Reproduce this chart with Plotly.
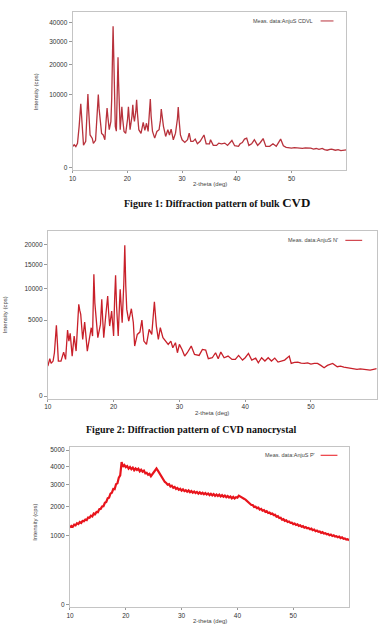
import numpy as np
import plotly.graph_objects as go

# ---------------- data ----------------
bulk_theta = [10.0, 10.3, 10.6, 10.9, 11.2, 11.35, 11.5, 11.65, 11.8, 12.0, 12.4, 12.6, 12.8, 12.95, 13.2,
              13.6, 13.8, 14.2, 14.5, 14.7, 14.85, 15.0, 15.3, 15.6, 15.9, 16.15, 16.3, 16.45, 16.7, 17.0,
              17.15, 17.3, 17.4, 17.5, 17.65, 17.8, 18.0, 18.15, 18.25, 18.3, 18.4, 18.55, 18.7, 18.85, 19.0,
              19.15, 19.4, 19.7, 20.05, 20.2, 20.35, 20.5, 20.85, 21.0, 21.15, 21.3, 21.55, 21.7, 21.85, 22.1,
              22.5, 22.9, 23.2, 23.5, 23.8, 24.05, 24.2, 24.35, 24.6, 25.0, 25.4, 25.8, 26.05, 26.2, 26.35,
              26.6, 27.0, 27.4, 27.7, 28.0, 28.4, 28.8, 29.15, 29.3, 29.45, 29.7, 30.0, 30.5, 31.0, 31.3,
              31.6, 32.0, 32.4, 32.8, 33.3, 34.0, 34.4, 35.0, 35.2, 35.7, 36.3, 36.7, 37.2, 37.8, 38.3,
              39.1, 39.6, 40.3, 40.6, 41.0, 41.4, 41.8, 42.2, 42.7, 43.2, 43.8, 44.3, 44.8, 45.3, 46.0,
              46.6, 47.2, 48.0, 48.5, 49.0, 49.5, 50.0, 50.5, 51.0, 51.5, 52.0, 52.5, 53.0, 53.5, 54.0,
              54.5, 55.0, 55.6, 56.0, 56.5, 57.0, 57.3, 58.0, 58.5, 59.0, 59.5, 60.0]
bulk_int = [830, 980, 830, 1100, 3200, 6000, 7700, 5000, 2400, 930, 1300, 4500, 10200, 6000, 2000,
            1600, 1100, 1400, 5000, 10100, 6500, 4300, 2200, 2000, 1450, 4500, 6700, 4800, 2700, 4000,
            9000, 25000, 37800, 26000, 8000, 3200, 2500, 9000, 19000, 23000, 14000, 3500, 2700, 4500, 7000,
            4500, 2450, 2200, 4500, 7000, 4500, 2700, 5000, 7450, 5000, 4000, 6000, 8700, 5500, 2700,
            2200, 3850, 2600, 3700, 2450, 5500, 8850, 5000, 2450, 1630, 2450, 2700, 4200, 6450, 4800,
            3200, 1820, 2700, 2000, 2780, 1450, 2230, 4500, 6900, 4300, 2000, 1450, 1190, 1450, 2230,
            1290, 1290, 1520, 1060, 1290, 2000, 1060, 1060, 1450, 920, 920, 1120, 1060, 1120, 920,
            1380, 890, 840, 1060, 1180, 1520, 1630, 920, 1060, 1450, 920, 1180, 1580, 840, 840,
            1060, 840, 1520, 890, 760, 720, 710, 740, 710, 690, 690, 730, 735, 700, 640,
            680, 620, 690, 600, 560, 620, 640, 560, 600, 530, 560, 590]

nano_theta = [10.0, 10.3, 10.5, 10.8, 11.0, 11.15, 11.3, 11.45, 11.6, 12.0, 12.4, 12.7, 13.0, 13.2, 13.4,
              13.7, 14.0, 14.3, 14.55, 14.7, 14.85, 15.0, 15.3, 15.6, 16.0, 16.3, 16.6, 16.8, 16.9, 17.0,
              17.15, 17.3, 17.6, 18.0, 18.1, 18.2, 18.35, 18.5, 18.8, 19.0, 19.1, 19.25, 19.4, 19.7, 20.0,
              20.15, 20.3, 20.45, 20.7, 20.9, 21.0, 21.15, 21.3, 21.55, 21.7, 21.85, 22.0, 22.3, 22.7, 23.0,
              23.2, 23.6, 24.0, 24.3, 24.6, 25.0, 25.4, 25.8, 26.05, 26.2, 26.35, 26.5, 26.8, 27.1, 27.5,
              27.9, 28.3, 28.7, 29.0, 29.4, 29.7, 30.0, 30.4, 30.8, 31.2, 31.8, 32.3, 33.0, 33.5, 34.0,
              34.4, 35.0, 35.5, 35.9, 36.3, 36.8, 37.4, 38.0, 38.5, 39.0, 39.6, 40.0, 40.5, 41.0, 41.6,
              42.0, 42.5, 43.0, 43.5, 44.0, 44.5, 45.0, 45.5, 46.0, 46.7, 47.0, 47.5, 48.0, 48.5, 49.0,
              49.5, 50.0, 50.5, 51.0, 51.5, 52.0, 52.5, 53.0, 53.3, 54.0, 54.5, 55.0, 55.5, 56.0, 56.5,
              57.0, 57.5, 58.0, 58.5, 59.0, 59.5, 60.0]
nano_int = [781, 1210, 926, 1063, 1630, 3000, 4335, 2500, 1063, 1063, 1680, 1167, 3781, 2626, 3409,
            1389, 3125, 1758, 5000, 7294, 6400, 5790, 2787, 4753, 1758, 2853, 4053, 3125, 6500, 12848,
            7500, 5326, 2954, 4458, 6000, 8111, 5000, 2954, 5555, 7000, 8680, 6000, 4253, 6271, 3125,
            8000, 12638, 7000, 3125, 7500, 9876, 7000, 4668, 11000, 19704, 10500, 6520, 4883, 6621, 4668,
            2170, 3301, 3555, 5013, 2626, 2317, 3858, 3301, 5500, 7724, 5800, 4253, 2787, 4053, 2954,
            2626, 2317, 2626, 2028, 2469, 1630, 2317, 1890, 1389, 1630, 2170, 1507, 1435, 1890, 1837,
            1210, 1275, 1630, 1210, 1680, 1275, 1389, 1167, 1167, 1435, 1125, 1275, 1580, 1125, 1253,
            964, 1275, 1063, 1275, 1063, 1253, 1003, 1043, 1125, 1389, 926, 990, 1003, 940, 926,
            960, 889, 930, 926, 816, 697, 816, 870, 926, 747, 780, 730, 700, 681, 650,
            617, 640, 617, 600, 587, 620, 649]

amor_theta = list(np.arange(10.0, 60.001, 0.25))   # measurement grid, 0.25 deg steps
amor_int = [1250, 1300, 1270, 1340, 1320, 1390, 1360, 1430, 1400, 1470, 1460, 1520,
            1500, 1590, 1580, 1660, 1630, 1740, 1710, 1800, 1790, 1910, 1920, 2020,
            2030, 2170, 2210, 2370, 2400, 2580, 2620, 2800, 2790, 3040, 3080, 3380,
            3500, 4250, 3980, 4080, 3960, 4020, 3870, 3960, 3840, 3930, 3780, 3880,
            3800, 3870, 3720, 3810, 3700, 3760, 3610, 3640, 3530, 3580, 3450, 3560,
            3600, 3760, 3880, 3760, 3620, 3480, 3380, 3240, 3150, 3100, 3010, 3040,
            2920, 2960, 2860, 2900, 2800, 2850, 2760, 2810, 2720, 2780, 2700, 2740,
            2670, 2730, 2650, 2700, 2620, 2680, 2610, 2660, 2580, 2640, 2570, 2620,
            2550, 2610, 2540, 2590, 2510, 2570, 2500, 2560, 2480, 2540, 2470, 2530,
            2450, 2510, 2440, 2490, 2420, 2470, 2400, 2450, 2370, 2430, 2360, 2420,
            2400, 2490, 2460, 2420, 2390, 2340, 2300, 2250, 2180, 2160, 2080, 2080,
            2000, 2010, 1950, 1970, 1890, 1920, 1850, 1870, 1800, 1830, 1760, 1780,
            1720, 1740, 1680, 1690, 1620, 1640, 1570, 1580, 1510, 1530, 1470, 1490,
            1430, 1450, 1400, 1410, 1360, 1380, 1330, 1350, 1300, 1320, 1270, 1290,
            1240, 1260, 1220, 1230, 1190, 1210, 1160, 1180, 1130, 1150, 1110, 1120,
            1080, 1100, 1060, 1070, 1040, 1050, 1010, 1030, 990, 1010, 970, 980,
            950, 970, 930, 950, 910, 920, 890, 900, 860]

x_ticks = [10, 20, 30, 40, 50]
y1_ticks = [0, 10000, 20000, 30000, 40000]
y2_ticks = [0, 5000, 10000, 15000, 20000]
y3_ticks = [0, 1000, 2000, 3000, 4000, 5000]

legend_names = ["Meas. data:AnjuS CDVL", "Meas. data:AnjuS N'", "Meas. data:AnjuS P'"]
captions = ["<b>Figure 1: Diffraction pattern of bulk </b><span style='font-size:13px'><b>CVD</b></span>",
            "<b>Figure 2: Diffraction pattern of CVD nanocrystal</b>"]

# ---------------- figure ----------------
W, H = 379, 625
def px(x):
    return x / W
def py(y):
    return 1 - y / H

fig = go.Figure()
colors = ["#b8323c", "#c8202a", "#e8141c"]
widths = [1.3, 1.3, 2.2]
series = [(bulk_theta, bulk_int), (nano_theta, nano_int), (amor_theta, amor_int)]
for i, (t, v) in enumerate(series):
    sfx = "" if i == 0 else str(i + 1)
    fig.add_trace(go.Scatter(x=t, y=np.sqrt(np.array(v, dtype=float)), mode="lines",
                             line=dict(color=colors[i], width=widths[i]),
                             xaxis="x" + sfx, yaxis="y" + sfx, showlegend=False,
                             name=legend_names[i]))

axis_common = dict(showgrid=False, zeroline=False, showline=True, mirror=True,
                   linecolor="#c4c4c4", linewidth=1, ticks="outside", ticklen=3,
                   tickcolor="#999", tickfont=dict(family="Liberation Sans", size=6.5, color="#333"))

xdoms = [(69.3, 346.0), (44.3, 376.7), (66.7, 348.7)]
ydoms = [(12.3, 170.0), (231.0, 399.3), (447.3, 607.7)]
yranges = [(-3.2, 213.8), (-2.4, 154.1), (-0.9, 72.3)]
yticks = [y1_ticks, y2_ticks, y3_ticks]

layout = dict(width=W, height=H, margin=dict(l=0, r=0, t=0, b=0),
              paper_bgcolor="white", plot_bgcolor="white", showlegend=False)
for i in range(3):
    sfx = "" if i == 0 else str(i + 1)
    layout["xaxis" + sfx] = dict(axis_common, domain=[px(xdoms[i][0]), px(xdoms[i][1])],
                                 range=[10, 60], tickvals=x_ticks, anchor="y" + sfx, ticklen=2)
    layout["yaxis" + sfx] = dict(axis_common, domain=[py(ydoms[i][1]), py(ydoms[i][0])],
                                 range=list(yranges[i]), tickvals=list(np.sqrt(yticks[i])),
                                 ticktext=[str(v) for v in yticks[i]], anchor="x" + sfx)
fig.update_layout(**layout)

ann = []
small = dict(family="Liberation Sans", size=6, color="#444")
# legends
leg_pos = [(314, 21, 320, 333), (340, 240.7, 345, 362), (316, 456, 320, 337)]
for i, (tx, ty, l0, l1) in enumerate(leg_pos):
    ann.append(dict(x=px(tx), y=py(ty), xref="paper", yref="paper", text=legend_names[i],
                    showarrow=False, xanchor="right", yanchor="middle", font=dict(small, size=5.5)))
    fig.add_shape(type="line", xref="paper", yref="paper", x0=px(l0), x1=px(l1), y0=py(ty), y1=py(ty),
                  line=dict(color=colors[i], width=1))
# axis titles
xt = [(207.7, 184), (210.5, 414), (207.7, 622)]
for (x, y) in xt:
    ann.append(dict(x=px(x), y=py(y), xref="paper", yref="paper", text="2-theta (deg)",
                    showarrow=False, xanchor="center", yanchor="middle", font=small))
yt = [(32, 92), (2, 315), (32, 523)]
for (x, y) in yt:
    ann.append(dict(x=px(x), y=py(y), xref="paper", yref="paper", text="Intensity (cps)",
                    showarrow=False, xanchor="center", yanchor="middle", textangle=-90, font=small))
# captions
ann.append(dict(x=px(215), y=py(203), xref="paper", yref="paper", text=captions[0], showarrow=False,
                xanchor="center", yanchor="middle",
                font=dict(family="Liberation Serif", size=10, color="#111")))
ann.append(dict(x=px(189), y=py(430), xref="paper", yref="paper", text=captions[1], showarrow=False,
                xanchor="center", yanchor="middle",
                font=dict(family="Liberation Serif", size=10, color="#111")))
fig.update_layout(annotations=ann)

fig.write_html("out.html")
